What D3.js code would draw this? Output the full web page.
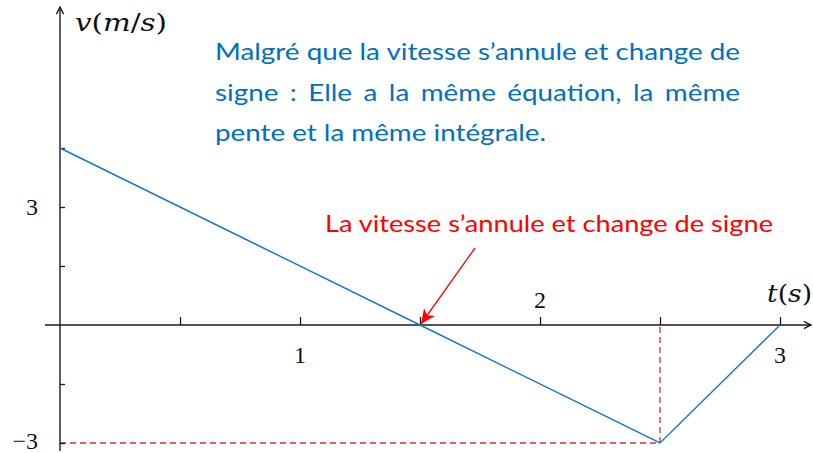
<!DOCTYPE html>
<html>
<head>
<meta charset="utf-8">
<script src="https://cdn.jsdelivr.net/npm/d3@7"></script>
<style>
  body { margin: 0; background: #fff; }
  svg { display: block; }
</style>
</head>
<body>
<svg id="drawing_region"></svg>
<script>
// velocity curve (t in s, v in m/s)
var times = [0, 1.5, 2.5, 3];
var speeds = [4.5, 0, -3, 0];

var xTicks = [0.5, 1, 1.5, 2, 2.5, 3];
var yTicks = [-3, -1.5, 1.5, 3, 4.5];
var xLabels = [{t: 1, text: '1', below: true}, {t: 2, text: '2', below: false}, {t: 3, text: '3', below: true}];
var yLabels = [{v: 3, text: '3'}, {v: -3, text: '\u22123'}];

var noteLines = [
  'Malgré que la vitesse s\u2019annule et change de',
  'signe : Elle a la même équation, la même',
  'pente et la même intégrale.'
];
var zeroNote = 'La vitesse s\u2019annule et change de signe';

var width = 813;
var height = 453;

var svg = d3.select('#drawing_region')
    .attr('width', width)
    .attr('height', height);

var xscale = d3.scaleLinear().domain([0, 3]).range([60, 780]);
var yscale = d3.scaleLinear().domain([-3, 4.5]).range([443, 148]);

var axisColor = '#1a1a1a';
var serif = '"Liberation Serif", "DejaVu Serif", serif';
var mathSerif = '"DejaVu Serif", serif';
var sans = 'Lato, "Open Sans", sans-serif';

var defs = svg.append('defs');
defs.append('marker')
    .attr('id', 'axisArrow')
    .attr('viewBox', '0 0 10 10')
    .attr('refX', 9).attr('refY', 5)
    .attr('markerWidth', 9).attr('markerHeight', 9)
    .attr('markerUnits', 'userSpaceOnUse')
    .attr('orient', 'auto')
    .append('path')
    .attr('d', 'M1,1 L9,5 L1,9')
    .attr('fill', 'none')
    .attr('stroke', axisColor)
    .attr('stroke-width', 1.6);
defs.append('marker')
    .attr('id', 'redArrow')
    .attr('viewBox', '0 0 12 12')
    .attr('refX', 11).attr('refY', 6)
    .attr('markerWidth', 16).attr('markerHeight', 16)
    .attr('markerUnits', 'userSpaceOnUse')
    .attr('orient', 'auto')
    .append('path')
    .attr('d', 'M0,1 L11,6 L0,11 L3,6 Z')
    .attr('fill', 'red');

// dashed guides to the minimum
var tMin = times[2], vMin = speeds[2];
svg.append('path')
    .attr('d', `M${xscale(0)},${yscale(vMin)} H${xscale(tMin)} V${yscale(0)}`)
    .attr('fill', 'none')
    .attr('stroke', '#d8312d')
    .attr('stroke-width', 1.3)
    .attr('stroke-dasharray', '6,4');

// axes ticks via d3 axes
var xaxis = d3.axisTop(xscale).tickValues(xTicks).tickSize(8).tickFormat('');
var yaxis = d3.axisRight(yscale).tickValues(yTicks).tickSize(5).tickFormat('');

var xg = svg.append('g')
    .attr('transform', `translate(0, ${yscale(0)})`)
    .call(xaxis);
var yg = svg.append('g')
    .attr('transform', `translate(${xscale(0)}, 0)`)
    .call(yaxis);
[xg, yg].forEach(g => {
  g.select('.domain').remove();
  g.selectAll('line').attr('stroke', axisColor).attr('stroke-width', 1.3);
});

// axis lines with arrows
svg.append('line')
    .attr('x1', 45).attr('y1', yscale(0))
    .attr('x2', 811).attr('y2', yscale(0))
    .attr('stroke', axisColor).attr('stroke-width', 1.4)
    .attr('marker-end', 'url(#axisArrow)');
svg.append('line')
    .attr('x1', xscale(0)).attr('y1', 451)
    .attr('x2', xscale(0)).attr('y2', 7)
    .attr('stroke', axisColor).attr('stroke-width', 1.4)
    .attr('marker-end', 'url(#axisArrow)');

// velocity line
var line = d3.line()
    .x((d, i) => xscale(times[i]))
    .y(d => yscale(d));
svg.append('path')
    .datum(speeds)
    .attr('d', line)
    .attr('fill', 'none')
    .attr('stroke', '#1177cc')
    .attr('stroke-width', 1.4);

// tick labels
svg.selectAll('.xlab')
    .data(xLabels)
    .join('text')
    .attr('class', 'xlab')
    .attr('x', d => xscale(d.t))
    .attr('y', d => d.below ? yscale(0) + 38 : yscale(0) - 17)
    .attr('text-anchor', 'middle')
    .attr('font-family', serif)
    .attr('font-size', 24)
    .attr('fill', '#111')
    .text(d => d.text);

svg.selectAll('.ylab')
    .data(yLabels)
    .join('text')
    .attr('class', 'ylab')
    .attr('x', 38)
    .attr('y', d => d.v < 0 ? yscale(d.v) + 6 : yscale(d.v) + 8)
    .attr('text-anchor', 'end')
    .attr('font-family', serif)
    .attr('font-size', 24)
    .attr('fill', '#111')
    .text(d => d.text);

// axis titles
function mathLabel(x, y, parts, len) {
  var t = svg.append('text')
      .attr('x', x).attr('y', y)
      .attr('font-family', mathSerif)
      .attr('font-size', 24)
      .attr('fill', '#111')
      .attr('textLength', len)
      .attr('lengthAdjust', 'spacingAndGlyphs');
  parts.forEach(p => {
    t.append('tspan')
      .attr('font-style', p[1] ? 'italic' : 'normal')
      .text(p[0]);
  });
}
mathLabel(75, 31, [['v', 1], ['(', 0], ['m', 1], ['/', 0], ['s', 1], [')', 0]], 92);
mathLabel(767, 302, [['t', 1], ['(', 0], ['s', 1], [')', 0]], 45);

// blue note, justified paragraph
var noteX0 = 215, noteX1 = 740;
var noteY = [60, 101, 141];
var blue = '#0070c0';

function fitText(x, y, str, len, color) {
  return svg.append('text')
      .attr('x', x).attr('y', y)
      .attr('font-family', sans)
      .attr('font-size', 23)
      .attr('fill', color)
      .attr('textLength', len)
      .attr('lengthAdjust', 'spacingAndGlyphs')
      .text(str);
}
fitText(noteX0, noteY[0], noteLines[0], noteX1 - noteX0, blue);
fitText(noteX0, noteY[2], noteLines[2], 331, blue);

// same horizontal stretch as the first line
var probe = svg.append('text')
    .attr('font-family', sans).attr('font-size', 23)
    .text(noteLines[0]);
var stretch = (noteX1 - noteX0) / probe.node().getComputedTextLength();
probe.remove();

// second line: spread the words over the full width
var words = noteLines[1].split(' ');
var wEls = words.map(w => svg.append('text')
    .attr('y', noteY[1])
    .attr('font-family', sans)
    .attr('font-size', 23)
    .attr('fill', blue)
    .text(w));
var widths = wEls.map(e => e.node().getComputedTextLength() * stretch);
wEls.forEach((e, i) => e.attr('textLength', widths[i]).attr('lengthAdjust', 'spacingAndGlyphs'));
var gap = (noteX1 - noteX0 - d3.sum(widths)) / (words.length - 1);
var cx = noteX0;
wEls.forEach((e, i) => {
  e.attr('x', cx);
  cx += widths[i] + gap;
});

// red note with arrow to the zero crossing
fitText(325, 232, zeroNote, 448, 'red');
svg.append('line')
    .attr('x1', 475).attr('y1', 248)
    .attr('x2', xscale(times[1]) + 1).attr('y2', yscale(0) - 1)
    .attr('stroke', 'red')
    .attr('stroke-width', 1.3)
    .attr('marker-end', 'url(#redArrow)');
</script>
</body>
</html>
